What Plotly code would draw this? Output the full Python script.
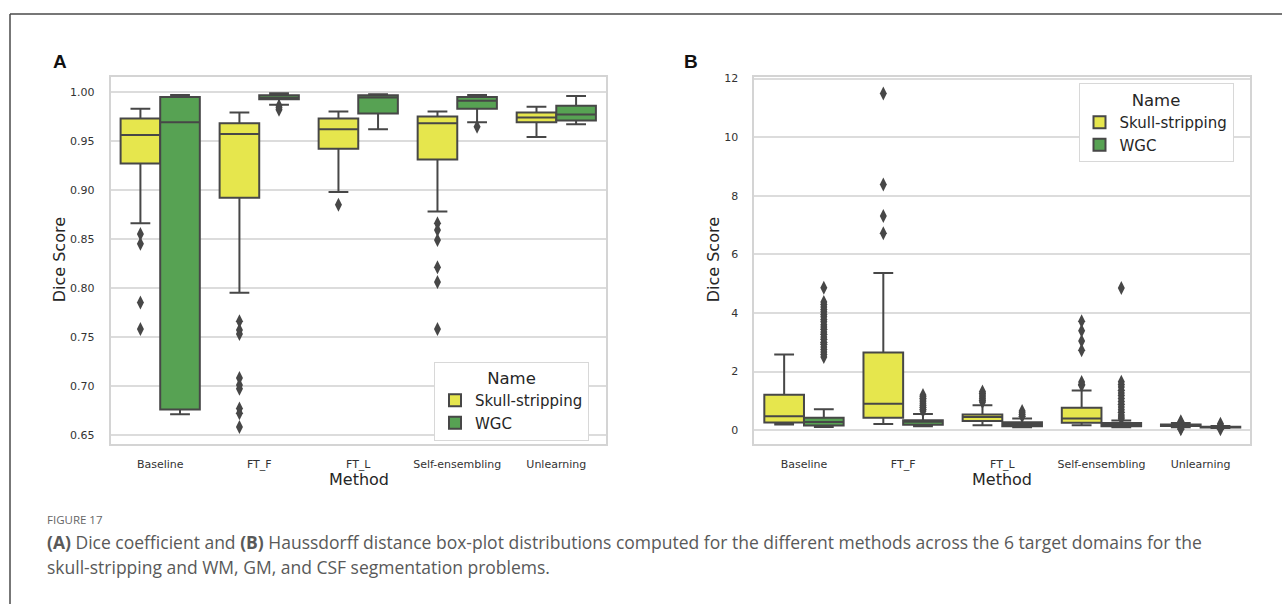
import plotly.graph_objects as go

W, H = 1282, 604

methods = ["Baseline", "FT_F", "FT_L", "Self-ensembling", "Unlearning"]
hues = ["Skull-stripping", "WGC"]
colors = {"Skull-stripping": "#E6E64D", "WGC": "#57A253"}
line_gray = "#474747"

# ---------------- Panel A: Dice score ----------------
a_skull_lower = [0.866, 0.795, 0.898, 0.878, 0.954]
a_skull_q1 = [0.927, 0.892, 0.942, 0.931, 0.969]
a_skull_med = [0.956, 0.957, 0.962, 0.968, 0.974]
a_skull_q3 = [0.973, 0.968, 0.973, 0.975, 0.979]
a_skull_upper = [0.983, 0.979, 0.980, 0.980, 0.985]
a_skull_out = [
    [0.855, 0.845, 0.785, 0.758],
    [0.766, 0.757, 0.753, 0.708, 0.701, 0.697, 0.677, 0.672, 0.658],
    [0.885],
    [0.866, 0.859, 0.849, 0.821, 0.806, 0.758],
    [],
]

a_wgc_lower = [0.671, 0.987, 0.962, 0.969, 0.967]
a_wgc_q1 = [0.676, 0.9925, 0.978, 0.983, 0.971]
a_wgc_med = [0.969, 0.994, 0.9945, 0.991, 0.977]
a_wgc_q3 = [0.995, 0.9966, 0.9966, 0.995, 0.986]
a_wgc_upper = [0.997, 0.9986, 0.9976, 0.997, 0.996]
a_wgc_out = [[], [0.986, 0.984, 0.982], [], [0.9645], []]

a_yticks = [0.65, 0.70, 0.75, 0.80, 0.85, 0.90, 0.95, 1.00]

# ---------------- Panel B: Haussdorff distance ----------------
b_skull_lower = [0.19, 0.21, 0.17, 0.17, 0.10]
b_skull_q1 = [0.26, 0.42, 0.31, 0.25, 0.14]
b_skull_med = [0.47, 0.90, 0.45, 0.40, 0.16]
b_skull_q3 = [1.21, 2.65, 0.53, 0.76, 0.19]
b_skull_upper = [2.58, 5.36, 0.85, 1.35, 0.24]
b_skull_out = [
    [],
    [11.49, 8.38, 7.31, 6.72],
    [0.96, 1.02, 1.08, 1.14, 1.20, 1.26, 1.32],
    [3.72, 3.39, 3.04, 2.73, 1.64, 1.57, 1.52],
    [0.30, 0.26, 0.06, 0.03],
]

b_wgc_lower = [0.11, 0.135, 0.10, 0.10, 0.07]
b_wgc_q1 = [0.16, 0.18, 0.13, 0.13, 0.09]
b_wgc_med = [0.28, 0.29, 0.20, 0.19, 0.10]
b_wgc_q3 = [0.42, 0.34, 0.27, 0.24, 0.12]
b_wgc_upper = [0.71, 0.55, 0.40, 0.33, 0.14]
b_wgc_out = [
    [2.50, 2.58, 2.67, 2.75, 2.84, 2.93, 3.00, 3.10, 3.18, 3.27, 3.35, 3.44,
     3.52, 3.60, 3.70, 3.78, 3.87, 3.95, 4.04, 4.12, 4.20, 4.29, 4.37, 4.86],
    [0.65, 0.71, 0.78, 0.84, 0.90, 0.97, 1.03, 1.09, 1.15, 1.20],
    [0.47, 0.53, 0.59, 0.65],
    [4.85, 1.65, 1.56, 1.47, 1.36, 1.27, 1.18, 1.08, 0.98, 0.88, 0.79, 0.70,
     0.61, 0.52, 0.45, 0.39],
    [0.22, 0.17, 0.03],
]

b_yticks = [0, 2, 4, 6, 8, 10, 12]

panels = {
    "A": {
        "Skull-stripping": (a_skull_lower, a_skull_q1, a_skull_med, a_skull_q3, a_skull_upper, a_skull_out),
        "WGC": (a_wgc_lower, a_wgc_q1, a_wgc_med, a_wgc_q3, a_wgc_upper, a_wgc_out),
    },
    "B": {
        "Skull-stripping": (b_skull_lower, b_skull_q1, b_skull_med, b_skull_q3, b_skull_upper, b_skull_out),
        "WGC": (b_wgc_lower, b_wgc_q1, b_wgc_med, b_wgc_q3, b_wgc_upper, b_wgc_out),
    },
}

fig = go.Figure()
offsets = {"Skull-stripping": -0.2, "WGC": 0.2}

for pi, (pname, pdata) in enumerate(panels.items()):
    xa = "x" if pi == 0 else "x2"
    ya = "y" if pi == 0 else "y2"
    leg = "legend" if pi == 0 else "legend2"
    for hue in hues:
        lo, q1, med, q3, up, outs = pdata[hue]
        pos = [i + offsets[hue] for i in range(len(methods))]
        fig.add_trace(go.Box(
            x=pos, q1=q1, median=med, q3=q3, lowerfence=lo, upperfence=up,
            width=0.4, whiskerwidth=0.5, boxpoints=False,
            fillcolor=colors[hue], line=dict(color=line_gray, width=2),
            name=hue, legend=leg, showlegend=True,
            xaxis=xa, yaxis=ya, hoverinfo="skip",
        ))
        ox, oy = [], []
        for i, vals in enumerate(outs):
            for v in vals:
                ox.append(pos[i])
                oy.append(v)
        fig.add_trace(go.Scatter(
            x=ox, y=oy, mode="markers", showlegend=False,
            marker=dict(symbol="diamond-tall", size=10, color=line_gray, line=dict(width=0)),
            xaxis=xa, yaxis=ya, hoverinfo="skip",
        ))

grid_col = "#dcdcdc"
frame_col = "#d4d4d4"
tick_font = dict(family="DejaVu Sans", size=11, color="#333333")


def px_x(v):
    return v / W


def px_y(v):
    return 1 - v / H


ydom = [px_y(443), px_y(73.3)]
common_x = dict(range=[-0.5, 4.5], tickvals=list(range(len(methods))), ticktext=methods,
                showgrid=False, zeroline=False, showline=True, mirror=True,
                linecolor=frame_col, linewidth=2, ticks="", tickfont=tick_font,
                ticklabelstandoff=9, fixedrange=True)
common_y = dict(showgrid=True, gridcolor=grid_col, gridwidth=1.5, zeroline=False,
                showline=True, mirror=True, linecolor=frame_col, linewidth=2,
                ticks="", tickfont=tick_font, ticklabelstandoff=12, fixedrange=True)

legend_common = dict(xanchor="left", yanchor="top",
                     bgcolor="white", bordercolor="#d8d8d8", borderwidth=1,
                     font=dict(family="DejaVu Sans", size=15, color="#262626"),
                     title=dict(text="Name", side="top center",
                                font=dict(family="DejaVu Sans", size=16.5, color="#262626")),
                     itemwidth=30, tracegroupgap=0)

fig.update_layout(
    width=W, height=H,
    margin=dict(l=0, r=0, t=0, b=0),
    paper_bgcolor="white", plot_bgcolor="white",
    xaxis=dict(domain=[px_x(110.7), px_x(605.8)], anchor="y", **common_x),
    yaxis=dict(domain=ydom, anchor="x", range=[0.6406, 1.0155], tickvals=a_yticks,
               tickformat=".2f", **common_y),
    xaxis2=dict(domain=[px_x(754.4), px_x(1250.2)], anchor="y2", **common_x),
    yaxis2=dict(domain=ydom, anchor="x2", range=[-0.475, 12.058], tickvals=b_yticks,
                **common_y),
    legend=dict(x=px_x(434), y=px_y(360), **legend_common),
    legend2=dict(x=px_x(1078.5), y=px_y(80), **legend_common),
    showlegend=True,
)

ann = []
title_font = dict(family="DejaVu Sans", size=16, color="#262626")
for cx in (px_x(358.5), px_x(1002)):
    ann.append(dict(text="Method", x=cx, y=px_y(479), xref="paper", yref="paper",
                    xanchor="center", yanchor="middle", showarrow=False, font=title_font))
for cx in (px_x(59), px_x(713)):
    ann.append(dict(text="Dice Score", x=cx, y=px_y(258), xref="paper", yref="paper",
                    xanchor="center", yanchor="middle", showarrow=False, textangle=-90,
                    font=title_font))
label_font = dict(family="Liberation Sans", size=19, color="#111111")
ann.append(dict(text="<b>A</b>", x=px_x(60), y=px_y(57.5), xref="paper", yref="paper",
                xanchor="center", yanchor="middle", showarrow=False, font=label_font))
ann.append(dict(text="<b>B</b>", x=px_x(691), y=px_y(58), xref="paper", yref="paper",
                xanchor="center", yanchor="middle", showarrow=False, font=label_font))

cap_font = dict(family="Open Sans", size=17.5, color="#595959")
ann.append(dict(text="FIGURE 17", x=px_x(45), y=px_y(519), xref="paper", yref="paper",
                xanchor="left", yanchor="middle", showarrow=False,
                font=dict(family="Open Sans", size=11.5, color="#666666")))
ann.append(dict(text="<b>(A)</b> Dice coefficient and <b>(B)</b> Haussdorff distance box-plot "
                     "distributions computed for the different methods across the 6 target "
                     "domains for the",
                x=px_x(45), y=px_y(542), xref="paper", yref="paper",
                xanchor="left", yanchor="middle", showarrow=False, font=cap_font))
ann.append(dict(text="skull-stripping and WM, GM, and CSF segmentation problems.",
                x=px_x(45), y=px_y(567), xref="paper", yref="paper",
                xanchor="left", yanchor="middle", showarrow=False, font=cap_font))
fig.update_layout(annotations=ann)

fig.update_layout(shapes=[
    dict(type="line", xref="paper", yref="paper", x0=px_x(10), x1=1, y0=px_y(10), y1=px_y(10),
         line=dict(color="#4a4a4a", width=1.5)),
    dict(type="line", xref="paper", yref="paper", x0=px_x(10), x1=px_x(10), y0=0, y1=px_y(10),
         line=dict(color="#4a4a4a", width=1.5)),
])

fig.write_html("out.html")
